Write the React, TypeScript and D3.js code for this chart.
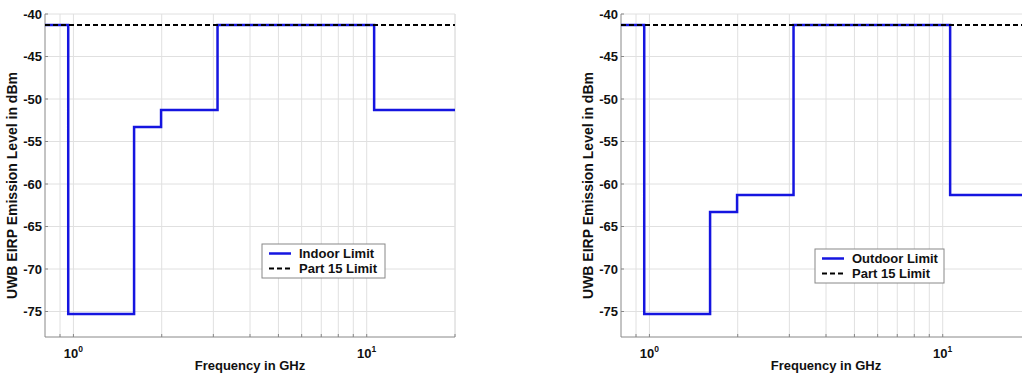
import React from "react";
import * as d3 from "d3";

// FCC UWB emission masks (dBm EIRP), band edges in GHz
const bandEdges = [0.8, 0.96, 1.61, 1.99, 3.1, 10.6, 20];
const indoorLimit = [-41.3, -75.3, -53.3, -51.3, -41.3, -51.3];
const outdoorLimit = [-41.3, -75.3, -63.3, -61.3, -41.3, -61.3];
const part15Limit = -41.3;

const yTicks = [-40, -45, -50, -55, -60, -65, -70, -75];
const xGrid = [0.9, 1, 2, 3, 4, 5, 6, 7, 8, 9, 10, 20];
const xMajor = [1, 10];

const W = 410;
const H = 323;
const FONT = "'Liberation Sans', Arial, sans-serif";

function Panel({ left, limit, name, legend }: { left: number; limit: number[]; name: string; legend: { x: number; y: number; w: number } }) {
  const top = 14;
  const x = d3.scaleLog().domain([0.8, 20]).range([0, W]);
  const y = d3.scaleLinear().domain([-78, -40]).range([H, 0]);

  const pts: [number, number][] = limit.map((v, i) => [bandEdges[i], v]);
  pts.push([bandEdges[bandEdges.length - 1], limit[limit.length - 1]]);
  const step = d3
    .line<[number, number]>()
    .x((d) => x(d[0]))
    .y((d) => y(d[1]))
    .curve(d3.curveStepAfter);

  return (
    <g transform={`translate(${left},${top})`} fontFamily={FONT} fontWeight="bold">
      {/* grid */}
      {yTicks.map((t) => (
        <line key={"gy" + t} x1={0} x2={W} y1={y(t)} y2={y(t)} stroke="#e0e0e0" strokeWidth={1} />
      ))}
      {xGrid.map((t) => (
        <line key={"gx" + t} x1={x(t)} x2={x(t)} y1={0} y2={H} stroke="#e0e0e0" strokeWidth={1} />
      ))}
      <line x1={W} x2={W} y1={0} y2={H} stroke="#e0e0e0" />
      {/* axes */}
      <line x1={0} x2={0} y1={0} y2={H} stroke="#888" strokeWidth={1} />
      <line x1={0} x2={W} y1={H} y2={H} stroke="#888" strokeWidth={1} />
      {xGrid.map((t) => (
        <line key={"tx" + t} x1={x(t)} x2={x(t)} y1={H} y2={H - 3} stroke="#888" />
      ))}
      {yTicks.map((t) => (
        <g key={"ty" + t}>
          <line x1={0} x2={3} y1={y(t)} y2={y(t)} stroke="#888" />
          <text x={-3} y={y(t)} dy="0.35em" textAnchor="end" fontSize={13} fill="#111">
            {t}
          </text>
        </g>
      ))}
      {xMajor.map((t) => (
        <text key={"lx" + t} x={x(t)} y={H + 21} textAnchor="middle" fontSize={13} fill="#111">
          10
          <tspan fontSize={8.5} dy={-6}>
            {Math.round(Math.log10(t))}
          </tspan>
        </text>
      ))}
      <text x={W / 2} y={H + 33} textAnchor="middle" fontSize={13} fill="#111">
        Frequency in GHz
      </text>
      <text transform={`translate(-28,${H / 2 + 10}) rotate(-90)`} textAnchor="middle" fontSize={14} fill="#111">
        UWB EIRP Emission Level in dBm
      </text>
      {/* data */}
      <path d={step(pts) || ""} fill="none" stroke="#1515e0" strokeWidth={2.5} />
      <line x1={0} x2={W} y1={y(part15Limit)} y2={y(part15Limit)} stroke="#000" strokeWidth={2} strokeDasharray="5,3" />
      {/* legend */}
      <g transform={`translate(${legend.x},${legend.y})`}>
        <rect x={0} y={0} width={legend.w} height={34} fill="#fff" stroke="#888" strokeWidth={1} />
        <line x1={7} x2={29} y1={9.5} y2={9.5} stroke="#1515e0" strokeWidth={2.5} />
        <line x1={7} x2={29} y1={24.5} y2={24.5} stroke="#000" strokeWidth={2} strokeDasharray="5,3" />
        <text x={37} y={9.5} dy="0.35em" fontSize={13} fill="#111">
          {name}
        </text>
        <text x={37} y={24.5} dy="0.35em" fontSize={13} fill="#111">
          Part 15 Limit
        </text>
      </g>
    </g>
  );
}

export default function App() {
  return (
    <svg
      width={1022}
      height={374}
      style={{ position: "fixed", left: 0, top: 0, background: "#fff" }}
    >
      <Panel left={45} limit={indoorLimit} name="Indoor Limit" legend={{ x: 217, y: 230, w: 123 }} />
      <Panel left={621} limit={outdoorLimit} name="Outdoor Limit" legend={{ x: 194, y: 235, w: 129 }} />
    </svg>
  );
}
